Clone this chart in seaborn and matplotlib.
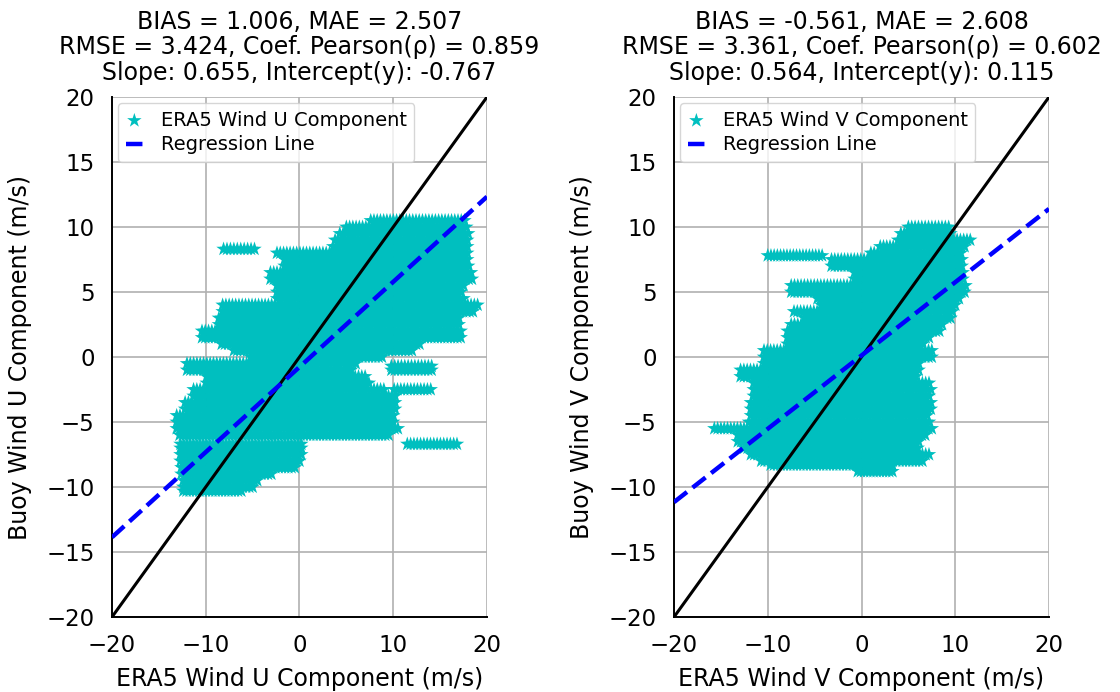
import numpy as np
import pandas as pd
import matplotlib
matplotlib.use("Agg")
import matplotlib.pyplot as plt
import seaborn as sns

# Collocated wind samples, grouped by buoy level: each streak is
# (buoy value, first ERA5 value, last ERA5 value) in m/s.
u_buoy = [10.5, 10.0, 9.5, 9.0, 8.5, 8.3, 8.0, 7.5, 7.0, 6.5, 6.0, 5.5, 5.0, 4.5,
          4.0, 3.5, 3.0, 2.5, 2.0, 1.5, 1.0, 0.5, 0.0, -0.5, -0.7, -1.0, -1.0,
          -1.5, -2.0, -2.5, -2.5, -3.0, -3.5, -4.0, -4.5, -5.0, -5.5, -6.0,
          -6.7, -6.7, -7.0, -7.5, -8.0, -8.5, -9.0, -9.5, -10.0, -10.3]
u_era5_start = [7.6, 5.0, 4.3, 3.8, 3.6, -8.1, -2.4, -1.6, -1.6, -3.1, -3.1, -2.4, -2.4, -2.4,
                -8.2, -8.2, -8.6, -8.6, -10.4, -10.4, -8.3, -7.0, -5.2, -12.0, 9.8, -12.0, 9.8,
                -9.9, -9.9, -11.3, 10.1, -11.3, -12.2, -12.2, -13.1, -13.1, -13.1, -12.8,
                -12.7, 11.5, -12.7, -12.7, -12.7, -12.6, -12.6, -12.4, -12.4, -12.4]
u_era5_end = [17.6, 17.8, 18.0, 17.9, 17.9, -4.8, 17.9, 17.9, 18.0, 18.3, 18.4, 17.5, 17.2, 17.5,
              19.0, 18.5, 17.0, 17.0, 17.2, 17.2, 12.8, 12.0, 8.8, 6.0, 14.1, 5.5, 14.1,
              7.0, 7.4, 9.0, 14.0, 10.2, 10.2, 10.2, 10.0, 10.0, 10.5, 9.5,
              0.2, 16.8, 0.2, 0.2, 0.0, -0.5, -3.0, -4.5, -5.0, -6.2]

v_buoy = [10.0, 9.5, 9.0, 8.5, 8.0, 7.8, 7.5, 7.0, 6.5, 6.0, 5.5, 5.0, 4.5, 4.0,
          3.5, 3.0, 2.5, 2.0, 1.5, 1.0, 0.5, 0.0, -0.5, -1.0, -1.5, -2.0, -2.5,
          -3.0, -3.5, -4.0, -4.5, -5.0, -5.5, -6.0, -6.5, -7.0, -7.5, -8.0,
          -8.3, -8.8]
v_era5_start = [5.0, 4.2, 3.9, 2.0, 1.0, -10.0, -3.2, -3.2, -0.75, -0.75, -7.5, -7.5, -4.7, -4.3,
                -7.2, -6.1, -7.5, -7.9, -7.9, -7.9, -10.4, -10.4, -10.4, -12.9, -12.9, -11.5, -11.5,
                -11.5, -11.8, -11.8, -11.8, -12.0, -15.7, -13.2, -13.2, -12.5, -11.8, -10.7,
                -9.7, -0.4]
v_era5_end = [9.3, 9.5, 11.6, 11.0, 10.6, -4.2, 10.7, 10.7, 10.8, 10.8, 11.1, 11.0, 10.4, 10.0,
              9.7, 9.5, 8.6, 8.3, 7.2, 6.5, 7.5, 7.5, 6.1, 6.1, 5.8, 7.2, 7.4,
              7.2, 7.4, 7.4, 7.0, 7.2, 7.5, 6.8, 6.1, 6.0, 7.2, 6.5,
              3.3, 3.3]

# Summary statistics printed above each panel
u_stats = dict(bias=1.006, mae=2.507, rmse=3.424, pearson=0.859, slope=0.655, intercept=-0.767)
v_stats = dict(bias=-0.561, mae=2.608, rmse=3.361, pearson=0.602, slope=0.564, intercept=0.115)

axis_lim = [-20, 20]
tick_values = [-20, -15, -10, -5, 0, 5, 10, 15, 20]
x_tick_values = [-20, -10, 0, 10, 20]


def streak_samples(buoy, start, end, spacing=0.35):
    era5, obs = [], []
    for b, s, e in zip(buoy, start, end):
        n = int(round((e - s) / spacing)) + 1
        era5.extend(np.linspace(s, e, n))
        obs.extend([b] * n)
    return pd.DataFrame({"era5": era5, "buoy": obs})


sns.set_style("whitegrid", {
    "axes.edgecolor": "black",
    "grid.color": "#b0b0b0",
    "axes.spines.top": False,
    "axes.spines.right": False,
    "text.color": "black",
    "axes.labelcolor": "black",
    "xtick.color": "black",
    "ytick.color": "black",
})
plt.rcParams["font.family"] = ["DejaVu Sans"]

fig = plt.figure(figsize=(11.2, 6.92), dpi=100)
ax_u = fig.add_axes([0.1, 0.1084, 0.3348, 0.7514])
ax_v = fig.add_axes([0.6018, 0.1084, 0.3348, 0.7514])

panels = [
    (ax_u, streak_samples(u_buoy, u_era5_start, u_era5_end), u_stats, "U"),
    (ax_v, streak_samples(v_buoy, v_era5_start, v_era5_end), v_stats, "V"),
]

for ax, df, st, comp in panels:
    sns.scatterplot(data=df, x="era5", y="buoy", ax=ax, marker="*", s=120,
                    color="c", edgecolor="none", linewidth=0,
                    label=f"ERA5 Wind {comp} Component", zorder=2)
    ref = pd.DataFrame({"x": axis_lim, "y": axis_lim})
    ax.plot(ref["x"], ref["y"], color="black", lw=2.2, zorder=3)
    reg = pd.DataFrame({"x": axis_lim})
    reg["y"] = st["slope"] * reg["x"] + st["intercept"]
    sns.lineplot(data=reg, x="x", y="y", ax=ax, color="blue", lw=3.2,
                 linestyle="--", label="Regression Line", zorder=4)

    ax.set_xlim(axis_lim)
    ax.set_ylim(axis_lim)
    ax.set_xticks(x_tick_values)
    ax.set_yticks(tick_values)
    ax.set_xticklabels([f"{v}".replace("-", "\u2212") for v in x_tick_values])
    ax.set_yticklabels([f"{v}".replace("-", "\u2212") for v in tick_values])
    ax.tick_params(labelsize=16.5, length=0, pad=12.5, colors="black")
    for side in ("left", "bottom"):
        ax.spines[side].set_linewidth(1.4)
        ax.spines[side].set_color("black")
    ax.grid(True, color="#b0b0b0", lw=1.2)
    ax.set_axisbelow(True)

    ax.set_xlabel(f"ERA5 Wind {comp} Component (m/s)", fontsize=17, labelpad=7)
    ax.set_ylabel(f"Buoy Wind {comp} Component (m/s)", fontsize=17, labelpad=10)
    ax.set_title(
        f"BIAS = {st['bias']:.3f}, MAE = {st['mae']:.3f}\n"
        f"RMSE = {st['rmse']:.3f}, Coef. Pearson(\u03c1) = {st['pearson']:.3f}\n"
        f"Slope: {st['slope']:.3f}, Intercept(y): {st['intercept']:.3f}",
        fontsize=17, pad=12, linespacing=1.1, color="black",
    )
    ax.legend(loc="upper left", fontsize=14, frameon=True, framealpha=0.8,
              edgecolor="#cccccc", borderpad=0.4, borderaxespad=0.3,
              handletextpad=0.9, handlelength=0.9, labelspacing=0.3)

fig.savefig("out.png", dpi=100)
